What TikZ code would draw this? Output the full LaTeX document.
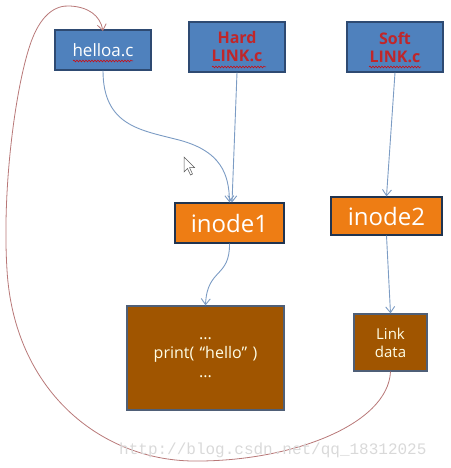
\documentclass[tikz,border=0pt]{standalone}
\usepackage{fontspec}
\setmainfont{Open Sans}
\newfontfamily\wmfont{Liberation Mono}
\usetikzlibrary{arrows.meta,decorations.pathmorphing}
\definecolor{boxblue}{HTML}{4F81BD}
\definecolor{boxblueb}{HTML}{2E4A72}
\definecolor{inorange}{HTML}{EE7D14}
\definecolor{databrown}{HTML}{A05500}
\definecolor{darkred}{HTML}{C0262A}
\definecolor{connblue}{HTML}{7C9CC4}
\definecolor{loopred}{HTML}{B87878}
\tikzset{
  filebox/.style={draw=boxblueb, line width=1.2pt, fill=boxblue, inner sep=0pt, align=center},
  inodebox/.style={draw=boxblueb!70!black, line width=1.2pt, fill=inorange, inner sep=0pt, text=white, font=\fontsize{24}{26}\selectfont},
  databox/.style={draw=boxblueb!60!gray, line width=1.2pt, fill=databrown, inner sep=0pt, text=white!90!yellow, align=center},
  conn/.style={draw=connblue, line width=0.9pt, -{Straight Barb[length=6pt,width=9pt]}},
  loop/.style={draw=loopred, line width=0.8pt, -{Straight Barb[length=6pt,width=9pt]}},
  squig/.style={draw=red!85!black, line width=0.5pt, decorate, decoration={snake, segment length=3pt, amplitude=0.9pt}}
}
\begin{document}
\begin{tikzpicture}[x=1pt,y=-1pt]
\useasboundingbox (0,0) rectangle (450,468);
% file boxes
\node[filebox, minimum width=96pt, minimum height=40pt, text=white, font=\fontsize{17}{19}\selectfont] (hello) at (103,50) {helloa.c};
\node[filebox, minimum width=96pt, minimum height=50pt, text=darkred, font=\bfseries\fontsize{16}{18}\selectfont] (hard) at (237,47) {Hard\\LINK.c};
\node[filebox, minimum width=96pt, minimum height=50pt, text=darkred, font=\bfseries\fontsize{16}{18}\selectfont] (soft) at (395,47) {Soft\\LINK.c};
% inodes
\node[inodebox, minimum width=109pt, minimum height=40pt] (in1) at (229.5,223) {inode1};
\node[inodebox, minimum width=111pt, minimum height=38pt] (in2) at (386.5,216) {inode2};
% data
\node[databox, minimum width=157pt, minimum height=104pt, font=\fontsize{16}{19}\selectfont] (print) at (205.5,358) {...\\print(\,\,“hello”\,\,)\\...};
\node[databox, minimum width=73pt, minimum height=57pt, font=\fontsize{15}{18}\selectfont] (link) at (390.5,342.5) {Link\\data};
% squiggles
\coordinate (s1a) at (73,61); \coordinate (s1b) at (133,61);
\coordinate (s2a) at (212,67); \coordinate (s2b) at (266,67);
\coordinate (s3a) at (369,67); \coordinate (s3b) at (421,67);
\draw[squig] (s1a) -- (s1b);
\draw[squig] (s2a) -- (s2b);
\draw[squig] (s3a) -- (s3b);
% connectors
\draw[conn] (hello.south) .. controls (103,125) and (140,130) .. (175,139) .. controls (222,150) and (229,175) .. (in1.north);
\draw[conn] (hard.south) -- (in1.north -| 232,0);
\draw[conn] (in1.south) .. controls (230,278) and (207,268) .. (print.north);
\draw[conn] (soft.south) -- (in2.north);
\draw[conn] (in2.south) -- (link.north);
% loop back
\draw[loop] (link.south) .. controls (388,425) and (290,462) .. (193,461)
  .. controls (100,460) and (14,390) .. (7,270)
  .. controls (2,190) and (15,90) .. (30,45)
  .. controls (40,15) and (55,5) .. (70,6)
  .. controls (88,7) and (100,15) .. (103,31);
% cursor
\draw[fill=white, draw=gray!70!black, line width=0.5pt] (184,157) -- (184,172) -- (187.5,168.5) -- (190.5,175) -- (192.5,174) -- (189.5,167.5) -- (194.5,167.5) -- cycle;
% watermark
\node[text=gray!30, font=\wmfont\fontsize{16}{18}\selectfont, anchor=west, inner sep=0pt] (wm) at (119,450) {http://blog.csdn.net/qq\_18312025};
\end{tikzpicture}
\end{document}
